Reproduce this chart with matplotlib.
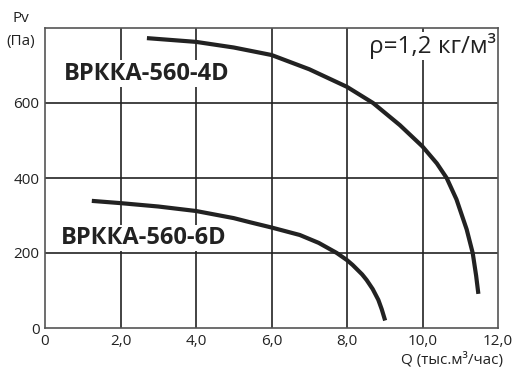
import matplotlib
matplotlib.use("Agg")
import matplotlib.pyplot as plt

plt.rcParams['font.family'] = ['Open Sans', 'DejaVu Sans']

# curve for ВРККА-560-4D
q_4d = [2.7, 4.0, 5.0, 6.0, 7.0, 8.0, 8.69, 9.4, 10.0, 10.38, 10.64, 10.9, 11.17, 11.33, 11.42, 11.48]
pv_4d = [773, 763, 748, 728, 690, 643, 600, 541, 484, 439, 400, 343, 263, 200, 140, 91]

# curve for ВРККА-560-6D
q_6d = [1.24, 2.0, 3.0, 4.0, 5.0, 5.43, 6.0, 6.75, 7.25, 7.73, 8.0, 8.15, 8.4, 8.52, 8.68, 8.83, 8.92, 9.01]
pv_6d = [339, 333, 324, 312, 293, 282, 268, 248, 227, 200, 181, 168, 143, 128, 104, 75, 50, 20]

x_ticks = [0, 2, 4, 6, 8, 10, 12]
x_labels = ['0', '2,0', '4,0', '6,0', '8,0', '10,0', '12,0']
y_ticks = [0, 200, 400, 600]
y_labels = ['0', '200', '400', '600']

fig = plt.figure(figsize=(5.16, 3.71), dpi=100)
ax = fig.add_axes([45/516, 43/371, 453/516, 300/371])

ax.set_xlim(0, 12)
ax.set_ylim(0, 800)
ax.set_xticks(x_ticks)
ax.set_xticklabels(x_labels)
ax.set_yticks(y_ticks)
ax.set_yticklabels(y_labels)
ax.tick_params(length=0, labelsize=11, colors='#222222', pad=4)

for x in [2, 4, 6, 8, 10]:
    ax.axvline(x, color='#222222', lw=1.2, zorder=1)
for y in [200, 400, 600]:
    ax.axhline(y, color='#222222', lw=1.2, zorder=1)
for s in ax.spines.values():
    s.set_color('#555555')
    s.set_linewidth(1.2)

ax.plot(q_4d, pv_4d, color='#222222', lw=3, solid_capstyle='butt',
        solid_joinstyle='round', zorder=3)
ax.plot(q_6d, pv_6d, color='#222222', lw=3, solid_capstyle='butt',
        solid_joinstyle='round', zorder=3)

box = dict(facecolor='white', edgecolor='none', pad=1)
ax.text(0.5, 678, 'ВРККА-560-4D', fontsize=17, fontweight='bold', color='#222222',
        va='center', ha='left', bbox=box, zorder=2)
ax.text(0.42, 240, 'ВРККА-560-6D', fontsize=17, fontweight='bold', color='#222222',
        va='center', ha='left', bbox=box, zorder=2)
ax.text(11.95, 752, 'ρ=1,2 кг/м³', fontsize=17.5, color='#222222',
        va='center', ha='right', bbox=box, zorder=2)

fig.text(21/516, 1 - 18/371, 'Pv', fontsize=11, color='#222222', ha='center', va='center')
fig.text(21/516, 1 - 42/371, '(Па)', fontsize=11, color='#222222', ha='center', va='center')
fig.text(503/516, 1 - 360/371, 'Q (тыс.м³/час)', fontsize=11, color='#222222', ha='right', va='center')

fig.savefig('out.png', dpi=100)
